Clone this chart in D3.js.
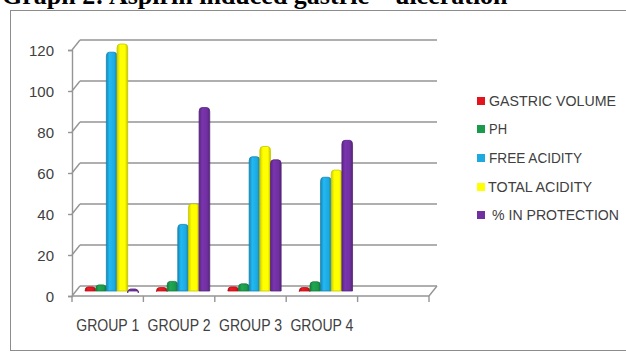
<!DOCTYPE html>
<html>
<head>
<meta charset="utf-8">
<script src="https://cdn.jsdelivr.net/npm/d3@7"></script>
<style>
  html, body { margin: 0; padding: 0; background: #fff; }
  svg { display: block; }
</style>
</head>
<body>
<svg id="chart" width="626" height="353"></svg>
<script>
// Categories (the last slot is an empty category, as on the axis)
const categories = ["GROUP 1", "GROUP 2", "GROUP 3", "GROUP 4", ""];
const seriesNames = ["GASTRIC VOLUME", "PH", "FREE ACIDITY", "TOTAL ACIDITY", "% IN PROTECTION"];
const seriesColors = ["#e3141c", "#1b9a4c", "#1ea9df", "#ffff00", "#7030a0"];

// Values per series, one entry per group
const gastricVolume = [1.5, 1.2, 1.5, 1.2];
const ph            = [2.5, 4.2, 3.0, 4.0];
const freeAcidity   = [116, 32, 65, 55];
const totalAcidity  = [120, 42, 70, 58.5];
const protection    = [0.5, 89, 63.5, 73];

const yTicks = [0, 20, 40, 60, 80, 100, 120];

const seriesValues = [gastricVolume, ph, freeAcidity, totalAcidity, protection];

const svg = d3.select("#chart");

// Title (partly above the page edge)
svg.append("text")
  .attr("x", 2).attr("y", 4)
  .attr("font-family", "'Liberation Serif', 'Times New Roman', serif")
  .attr("font-weight", "bold")
  .attr("font-size", 26)
  .attr("fill", "#000")
  .attr("xml:space", "preserve")
  .text("Graph 2: Aspirin induced gastric \u201D ulceration");

// Chart frame
svg.append("rect")
  .attr("x", 10.5).attr("y", 10.5)
  .attr("width", 640).attr("height", 340)
  .attr("fill", "#fff")
  .attr("stroke", "#8c8c8c").attr("stroke-width", 1);

// Perspective offset from the front plane to the back wall
const depthX = 8, depthY = -10;

const y = d3.scaleLinear().domain([0, 120]).range([296, 50]);
const x = d3.scaleBand().domain(categories).range([72, 429]).padding(0);
const xs = d3.scaleBand().domain(seriesNames).range([0, x.bandwidth()])
  .paddingInner(0).paddingOuter(0.85);

const grid = svg.append("g").attr("stroke", "#959595").attr("stroke-width", 1.4).attr("fill", "none");

// Back wall gridlines and side-wall diagonals
yTicks.forEach(t => {
  const yf = y(t);
  grid.append("line")
    .attr("x1", 72 + depthX).attr("x2", 429 + depthX)
    .attr("y1", yf + depthY).attr("y2", yf + depthY);
  grid.append("line")
    .attr("x1", 72).attr("y1", yf)
    .attr("x2", 72 + depthX).attr("y2", yf + depthY);
});

// Floor front edge and right side
grid.append("line").attr("x1", 72).attr("x2", 429).attr("y1", y(0)).attr("y2", y(0));
grid.append("line").attr("x1", 429).attr("y1", y(0)).attr("x2", 429 + depthX).attr("y2", y(0) + depthY);

// Front value axis
const yAxis = d3.axisLeft(y).tickValues(yTicks).tickSize(4).tickPadding(14).tickFormat(d3.format("d"));
const gy = svg.append("g").attr("transform", "translate(72,0)").call(yAxis);
gy.select(".domain").attr("stroke", "#959595").attr("stroke-width", 1.4);
gy.selectAll(".tick line").attr("stroke", "#959595").attr("stroke-width", 1.4);
gy.selectAll(".tick text")
  .attr("font-family", "'Liberation Sans', Arial, sans-serif")
  .attr("font-size", 15)
  .attr("fill", "#404040")
  .attr("dy", "0.36em");

// Category axis
const xAxis = d3.axisBottom(x).tickSize(0).tickPadding(24);
const gx = svg.append("g").attr("transform", `translate(0,${y(0)})`).call(xAxis);
gx.select(".domain").remove();
gx.selectAll(".tick text")
  .attr("font-family", "'Liberation Sans Narrow', 'Liberation Sans', Arial, sans-serif")
  .attr("font-size", 16)
  .attr("fill", "#404040")
  .attr("textLength", d => d ? 63 : 0)
  .attr("lengthAdjust", "spacingAndGlyphs");

// Category separators
const bounds = categories.map(c => x(c)).concat([x.range()[1]]);
svg.append("g").selectAll("line").data(bounds).join("line")
  .attr("x1", d => d).attr("x2", d => d)
  .attr("y1", y(0)).attr("y2", y(0) + 6)
  .attr("stroke", "#959595").attr("stroke-width", 1.4);

// Gradients for the shaded columns
const defs = svg.append("defs");
seriesColors.forEach((c, i) => {
  const base = d3.color(c);
  const g = defs.append("linearGradient").attr("id", "grad" + i)
    .attr("x1", "0").attr("x2", "1").attr("y1", "0").attr("y2", "0");
  g.append("stop").attr("offset", "0").attr("stop-color", base.darker(0.6));
  g.append("stop").attr("offset", "0.3").attr("stop-color", base.brighter(0.25));
  g.append("stop").attr("offset", "0.75").attr("stop-color", base);
  g.append("stop").attr("offset", "1").attr("stop-color", base.darker(0.8));
});

// Columns sit halfway into the depth
const barDX = depthX / 2, barDY = depthY / 2;
const barData = [];
categories.slice(0, 4).forEach((cat, ci) => {
  seriesNames.forEach((s, si) => {
    barData.push({ cat, s, si, v: seriesValues[si][ci] });
  });
});

const bars = svg.append("g");
bars.selectAll("path").data(barData).join("path")
  .attr("d", d => {
    const x0 = x(d.cat) + barDX + xs(d.s);
    const w = xs.bandwidth();
    const yb = y(0) + barDY;
    const yt = y(d.v) + barDY;
    const r = Math.min(3, w / 2);
    return `M${x0},${yb} L${x0},${yt + r} Q${x0},${yt - 1} ${x0 + r},${yt - 1} ` +
           `L${x0 + w - r},${yt - 1} Q${x0 + w},${yt - 1} ${x0 + w},${yt + r} L${x0 + w},${yb} Z`;
  })
  .attr("fill", d => `url(#grad${d.si})`)
  .attr("stroke", d => d3.color(seriesColors[d.si]).darker(0.7))
  .attr("stroke-width", 0.8);

// Legend
const legendY = [101, 129, 158, 187, 215];
const legendTextX = [489, 489, 489, 488, 492];
const legendLen = [127, 18, 93, 104, 127];
const legend = svg.append("g");
seriesNames.forEach((s, i) => {
  legend.append("rect")
    .attr("x", 477).attr("y", legendY[i] - 4)
    .attr("width", 8).attr("height", 8)
    .attr("fill", seriesColors[i]);
  legend.append("text")
    .attr("x", legendTextX[i]).attr("y", legendY[i])
    .attr("dy", "0.36em")
    .attr("font-family", "'Liberation Sans Narrow', 'Liberation Sans', Arial, sans-serif")
    .attr("font-size", 15)
    .attr("fill", "#404040")
    .attr("textLength", legendLen[i])
    .attr("lengthAdjust", "spacingAndGlyphs")
    .text(s);
});
</script>
</body>
</html>
